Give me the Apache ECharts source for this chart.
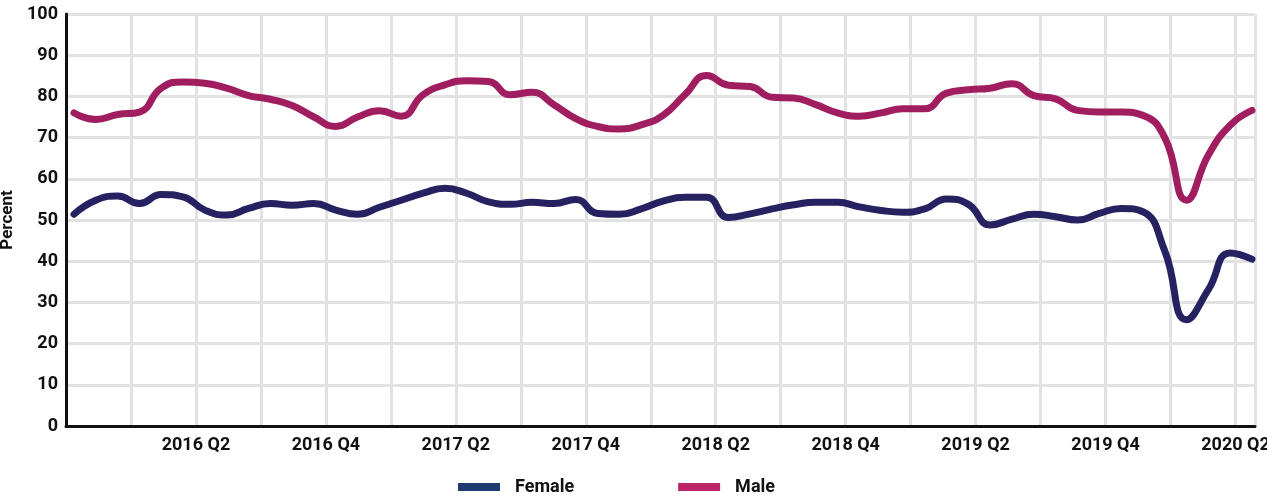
<!DOCTYPE html>
<html>
<head>
<meta charset="utf-8">
<title>Percent by sex</title>
<script src="https://cdn.jsdelivr.net/npm/echarts@6/dist/echarts.min.js"></script>
<style>
  html, body { margin: 0; padding: 0; background: #ffffff; }
  #chart { width: 1267px; height: 496px; }
</style>
</head>
<body>
<div id="chart"></div>
<script>
// Monthly observations, Oct 2015 – Apr 2020
const months = [
  '2015-10','2015-11','2015-12',
  '2016-01','2016-02','2016-03','2016-04','2016-05','2016-06','2016-07','2016-08','2016-09','2016-10','2016-11','2016-12',
  '2017-01','2017-02','2017-03','2017-04','2017-05','2017-06','2017-07','2017-08','2017-09','2017-10','2017-11','2017-12',
  '2018-01','2018-02','2018-03','2018-04','2018-05','2018-06','2018-07','2018-08','2018-09','2018-10','2018-11','2018-12',
  '2019-01','2019-02','2019-03','2019-04','2019-05','2019-06','2019-07','2019-08','2019-09','2019-10','2019-11','2019-12',
  '2020-01','2020-02','2020-03','2020-04'
];

const female = [
  51.4, 54.8, 55.8, 54.0, 56.2, 55.6, 52.4, 51.2, 52.8, 54.0,
  53.6, 54.0, 52.4, 51.4, 53.1, 54.8, 56.5, 57.7, 56.5, 54.4,
  53.8, 54.3, 54.0, 55.0, 51.6, 51.4, 52.7, 54.6, 55.5, 55.5,
  50.6, 51.5, 52.7, 53.7, 54.3, 54.3, 53.2, 52.3, 51.9, 52.7,
  55.1, 53.8, 48.8, 50.2, 51.4, 50.8, 50.0, 51.6, 52.8, 52.0,
  42.5, 25.8, 33.1, 42.0, 40.5
];

const male = [
  76.0, 74.4, 75.6, 76.2, 82.0, 83.5, 83.2, 82.0, 80.2, 79.3,
  77.8, 75.0, 72.7, 75.0, 76.5, 75.2, 80.4, 82.8, 83.8, 83.6,
  80.4, 81.0, 78.0, 74.6, 72.7, 72.1, 73.1, 75.4, 80.4, 85.1,
  82.7, 82.4, 79.8, 79.6, 78.0, 76.0, 75.2, 76.0, 77.0, 77.0,
  80.8, 81.6, 82.0, 83.1, 80.2, 79.4, 76.6, 76.2, 76.2, 75.4,
  70.0, 54.8, 65.8, 73.0, 76.6
];

// Quarter labels, one every second quarter line (6 months apart)
const quarterLabels = ['2016 Q2', '2016 Q4', '2017 Q2', '2017 Q4', '2018 Q2',
                       '2018 Q4', '2019 Q2', '2019 Q4', '2020 Q2'];
const yTicks = { min: 0, max: 100, step: 10 };

const FONT = 'Roboto';
const INK = '#111111';
const GRID_LINE = '#e2e2e2';
const FEMALE_LINE = '#262262';
const MALE_LINE = '#a01e60';
const FEMALE_KEY = '#1f3b70';
const MALE_KEY = '#bd2467';

const chart = echarts.init(document.getElementById('chart'), null, { renderer: 'canvas' });

// Frame grid carries the axes and quarter lines; data grid spans first to last month.
const frameGrid = { left: 66, right: 12, top: 14, bottom: 70, outerBoundsMode: 'none', containLabel: false };
const dataGrid = { left: 74, right: 15, top: 14, bottom: 70, outerBoundsMode: 'none', containLabel: false };

chart.setOption({
  animation: false,
  backgroundColor: '#ffffff',
  grid: [frameGrid, dataGrid],
  legend: {
    left: 453,
    top: 473,
    icon: 'rect',
    itemWidth: 42,
    itemHeight: 8,
    itemGap: 104,
    textStyle: {
      fontFamily: FONT, fontWeight: 'bold', fontSize: 18, color: INK,
      padding: [0, 0, 0, 10]
    },
    data: [
      { name: 'Female', itemStyle: { color: FEMALE_KEY } },
      { name: 'Male', itemStyle: { color: MALE_KEY } }
    ]
  },
  xAxis: [
    {
      // quarter grid (value axis in months since Oct 2015)
      type: 'value',
      gridIndex: 0,
      min: 0,
      max: 54.9,
      interval: 3,
      axisLine: { show: true, onZero: false, lineStyle: { color: INK, width: 3 } },
      axisTick: { show: false },
      splitLine: { show: true, lineStyle: { color: GRID_LINE, width: 3 } },
      axisLabel: {
        margin: 10,
        fontFamily: FONT, fontWeight: 'bold', fontSize: 18, color: INK,
        showMaxLabel: false,
        formatter: function (v) {
          if (v > 0 && v % 6 === 0) {
            return quarterLabels[v / 6 - 1] || '';
          }
          return '';
        }
      }
    },
    {
      type: 'category',
      gridIndex: 1,
      data: months,
      boundaryGap: false,
      show: false
    }
  ],
  yAxis: [
    {
      type: 'value',
      gridIndex: 0,
      min: yTicks.min,
      max: yTicks.max,
      interval: yTicks.step,
      name: 'Percent',
      nameLocation: 'middle',
      nameGap: 47,
      nameRotate: 90,
      nameTextStyle: { fontFamily: FONT, fontWeight: 'bold', fontSize: 17, color: INK },
      axisLine: { show: true, lineStyle: { color: INK, width: 3 } },
      axisTick: { show: false },
      splitLine: { show: true, lineStyle: { color: GRID_LINE, width: 3 } },
      axisLabel: {
        margin: 8,
        fontFamily: FONT, fontWeight: 'bold', fontSize: 18, color: INK
      }
    },
    {
      type: 'value',
      gridIndex: 1,
      min: yTicks.min,
      max: yTicks.max,
      show: false,
      splitLine: { show: false }
    }
  ],
  series: [
    {
      name: 'Female',
      type: 'line',
      xAxisIndex: 1,
      yAxisIndex: 1,
      data: female,
      smooth: true,
      showSymbol: false,
      itemStyle: { color: FEMALE_KEY },
      lineStyle: { color: FEMALE_LINE, width: 7, cap: 'round', join: 'round' },
      z: 3
    },
    {
      name: 'Male',
      type: 'line',
      xAxisIndex: 1,
      yAxisIndex: 1,
      data: male,
      smooth: true,
      showSymbol: false,
      itemStyle: { color: MALE_KEY },
      lineStyle: { color: MALE_LINE, width: 7, cap: 'round', join: 'round' },
      z: 3
    }
  ]
});
</script>
</body>
</html>
